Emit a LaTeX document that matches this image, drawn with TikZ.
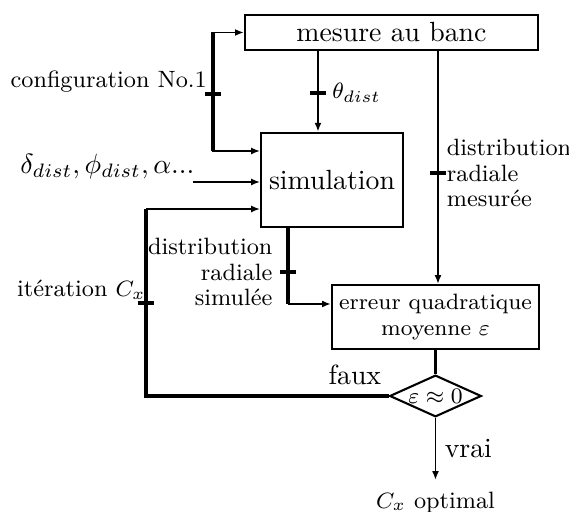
\documentclass[tikz,border=0pt]{standalone}
\usetikzlibrary{positioning, arrows.meta, shapes.geometric}
\newcommand{\lblsize}{\fontsize{8.5}{9.3}\selectfont}

\begin{document}
\begin{tikzpicture}[
    x=0.36pt, y=-0.36pt,
    box/.style={draw, line width=0.75pt, inner sep=0pt},
    arrow/.style={-{Latex[length=3.2pt, width=2.5pt]}, line width=0.7pt},
    bus/.style={line width=1.2pt},
    notch/.style={line width=1.2pt},
    lbl/.style={inner sep=0pt, font=\lblsize}
]
    \useasboundingbox (0,0) rectangle (569,512);

    % Blocs
    \node[box, minimum width=105.5pt, minimum height=12.6pt] (mesure) at (391.5,32.5) {mesure au banc};
    \node[box, minimum width=51pt, minimum height=34pt] (sim) at (332,180) {simulation};
    \node[box, minimum width=74.5pt, minimum height=23pt, font=\footnotesize, align=center] (erreur) at (435.5,317) {erreur quadratique\\moyenne $\varepsilon$};
    \node[box, diamond, aspect=2.2, minimum width=33pt, minimum height=15pt, font=\lblsize] (test) at (435.5,396) {$\varepsilon \approx 0$};

    % Points des traits
    \coordinate (cfg) at (213,94);
    \coordinate (th) at (318,93);
    \coordinate (mes) at (438,173);
    \coordinate (simout) at (288,272);
    \coordinate (loop) at (146,209);
    \coordinate (iter) at (146,303);
    \coordinate (din) at (193,182);
    \coordinate (out) at (435.5,480);

    % Entrees
    \draw[arrow] (cfg) |- (mesure.west);
    \draw[arrow] (cfg) |- (sim.west |- 0,151);
    \draw[bus] (cfg |- mesure.west) -- (cfg |- 0,151);
    \draw[notch] (cfg) ++(-8,0) -- ++(16,0);
    \node[lbl, above left=0.3pt and 2pt of cfg] {configuration No.1};

    \node[inner sep=0pt, above left=1pt and -0.7pt of din] (delta) {$\delta_{dist}, \phi_{dist}, \alpha$...};
    \draw[arrow] (din) -- (din -| sim.west);

    \draw[arrow] (th |- mesure.south) -- (th |- sim.north);
    \draw[notch] (th) ++(-8,0) -- ++(16,0);
    \node[lbl, right=5pt of th] {$\theta_{dist}$};

    % Distributions
    \draw[arrow] (mes |- mesure.south) -- (mes |- erreur.north);
    \draw[notch] (mes) ++(-8,0) -- ++(16,0);
    \node[lbl, right=3pt of mes, align=left] {distribution\\radiale\\mesurée};

    \draw[bus] (simout |- sim.south) -- (simout |- 0,304);
    \draw[arrow] (simout |- 0,304) -- (erreur.west |- 0,304);
    \draw[notch] (simout) ++(-8,0) -- ++(16,0);
    \node[lbl, left=5.4pt of simout, align=right] {distribution\\radiale\\simulée};

    % Test et boucle
    \draw[bus] (erreur.south) -- (test.north);
    \draw[bus] (test.west) -| (loop);
    \draw[arrow] (loop) -- (loop -| sim.west);
    \draw[notch] (iter) ++(-8,0) -- ++(16,0);
    \node[lbl, above left=1pt and 0pt of iter] {itération $C_x$};
    \node[inner sep=0pt, above left=4pt and 2.5pt of test.west] {faux};

    \draw[arrow] (test.south) -- (out) node[midway, right=3pt, inner sep=0pt] {vrai};
    \node[lbl, below=4pt of out] {$C_x$ optimal};

\end{tikzpicture}
\end{document}
